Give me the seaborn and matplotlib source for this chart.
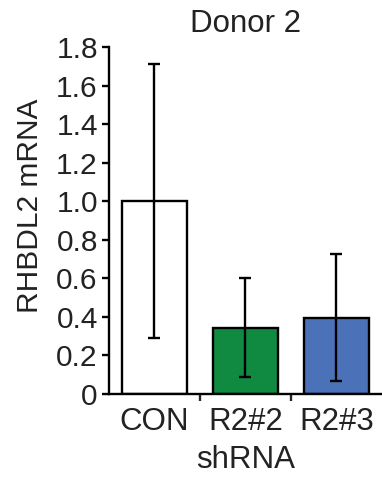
import matplotlib
matplotlib.use("Agg")
import matplotlib.pyplot as plt
import seaborn as sns
import pandas as pd
from matplotlib.ticker import FixedLocator, FuncFormatter

# ------------------------------------------------------------
# data
# ------------------------------------------------------------
groups = ["CON", "R2#2", "R2#3"]
means = [1.00, 0.345, 0.395]
errs = [0.71, 0.255, 0.33]
bar_colors = ["#ffffff", "#0f8a40", "#4b72b9"]
yticks = [0, 0.2, 0.4, 0.6, 0.8, 1.0, 1.2, 1.4, 1.6, 1.8]

sns.set_theme(style="ticks")
plt.rcParams["font.family"] = ["Liberation Sans", "DejaVu Sans"]
plt.rcParams["axes.linewidth"] = 1.7

df = pd.DataFrame({"group": groups, "mrna": means})

fig = plt.figure(figsize=(3.82, 4.78), dpi=100)
ax = fig.add_axes([0.2853, 0.1757, 0.7147, 0.726])

sns.barplot(data=df, x="group", y="mrna", hue="group", palette=bar_colors,
            order=groups, hue_order=groups, legend=False, errorbar=None,
            saturation=1, width=0.71, edgecolor="black", linewidth=1.7, ax=ax)
ax.errorbar(range(len(groups)), means, yerr=errs, fmt="none",
            ecolor="black", elinewidth=1.7, capsize=4, capthick=1.7)

ax.set_xlim(-0.5, 2.5)
ax.set_ylim(0, 1.8)
ax.yaxis.set_major_locator(FixedLocator(yticks))
ax.yaxis.set_major_formatter(FuncFormatter(lambda v, p: "0" if v == 0 else f"{v:.1f}"))
ax.tick_params(axis="y", length=5, width=1.7, pad=3, labelsize=21.5, colors="black")
ax.tick_params(axis="x", which="major", length=0, pad=9, labelsize=22.5)
ax.xaxis.set_minor_locator(FixedLocator([0.5, 1.5]))
ax.tick_params(axis="x", which="minor", length=5, width=1.7, direction="out")

for s in ["top", "right"]:
    ax.spines[s].set_visible(False)
for s in ["left", "bottom"]:
    ax.spines[s].set_color("black")

ax.set_xlabel("shRNA", fontsize=22.5, labelpad=6, color="#222222")
ax.set_ylabel("RHBDL2 mRNA", fontsize=21.5, color="#222222")
ax.yaxis.set_label_coords(-0.238, 0.543)
ax.set_title("Donor 2", fontsize=22.5, pad=11, color="#222222")
for lab in ax.get_xticklabels() + ax.get_yticklabels():
    lab.set_color("#222222")

fig.savefig("out.png", dpi=100)
